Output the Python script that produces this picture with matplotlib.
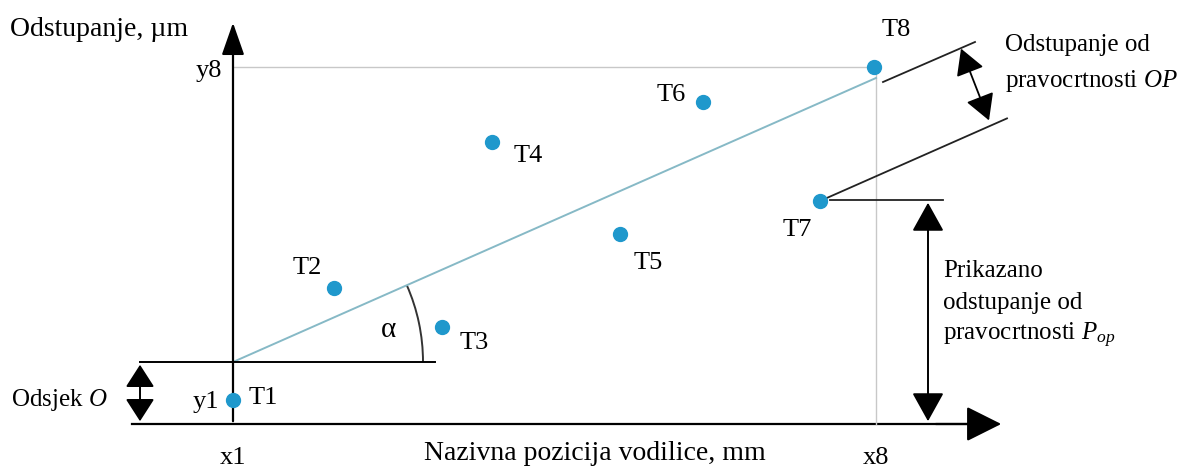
import numpy as np
import matplotlib.pyplot as plt
from matplotlib.patches import Arc, FancyArrowPatch

plt.rcParams['font.family'] = ['Liberation Serif', 'DejaVu Serif']
plt.rcParams['mathtext.fontset'] = 'custom'
plt.rcParams['mathtext.rm'] = 'Liberation Serif'
plt.rcParams['mathtext.it'] = 'Liberation Serif:italic'

# measured points (nominal position, deviation)
labels = ['T1', 'T2', 'T3', 'T4', 'T5', 'T6', 'T7', 'T8']
x_pos = [0, 101, 209, 259, 387, 470, 587, 641]
deviation = [24, 136, 97, 282, 190, 322, 223, 357]

x8 = 643
y8 = 357
offset_O = 62          # intercept of the reference line
slope = 0.4417         # slope of the reference line

lbl_off = [(30, 2), (-27, 20), (32, -16), (36, -14), (28, -29), (-32, 7), (-23, -29), (22, 37)]

fig = plt.figure(figsize=(11.9, 4.68), dpi=100)
ax = fig.add_axes([0, 0, 1, 1])
ax.set_xlim(-233, 957)
ax.set_ylim(-44, 424)
ax.axis('off')

fs = 19
blk = 'black'

# axes with arrows
ax.plot([-101, 750], [0, 0], color=blk, lw=1.6)
ax.annotate('', xy=(771, 0), xytext=(700, 0),
            arrowprops=dict(arrowstyle='-|>,head_length=1.1,head_width=0.55', color=blk, lw=1.6, mutation_scale=20))
ax.annotate('', xy=(0, 404), xytext=(0, 0),
            arrowprops=dict(arrowstyle='-|>,head_length=1.0,head_width=0.35', color=blk, lw=1.6, mutation_scale=20))

# grey guide lines at x8 / y8
ax.plot([0, x8], [y8, y8], color='#c8c8c8', lw=1)
ax.plot([x8, x8], [0, y8], color='#c8c8c8', lw=1)

# reference line
ax.plot([0, x8], [offset_O, offset_O + slope * x8], color='#86b9c6', lw=1.4)

# horizontal at O and angle arc
ax.plot([-93, 202], [offset_O, offset_O], color=blk, lw=1.4)
ang = np.degrees(np.arctan(slope))
ax.add_patch(Arc((0, offset_O), 380, 380, theta1=0, theta2=ang, color='#333333', lw=1.4))
ax.text(155, 94, 'α', fontsize=fs + 2, ha='center', va='center')

# Odsjek O arrow
ax.add_patch(FancyArrowPatch((-93, offset_O), (-93, 0),
             arrowstyle='<|-|>,head_length=0.7,head_width=0.45', mutation_scale=20, color=blk, lw=1.4))
ax.text(-222, 24, 'Odsjek $\\mathit{O}$', fontsize=fs - 1, va='center', ha='left')

# envelope lines and OP arrow
ax.plot([650, 742], [342, 382], color='#222222', lw=1.3)
ax.plot([587, 774], [223, 223 + slope * 187], color='#222222', lw=1.3)
ax.add_patch(FancyArrowPatch((727, 378), (757, 301),
             arrowstyle='<|-|>,head_length=0.8,head_width=0.45', mutation_scale=20, color=blk, lw=1.3))
ax.text(772, 379, 'Odstupanje od', fontsize=fs - 1, va='center', ha='left')
ax.text(772, 343, 'pravocrtnosti $\\mathit{OP}$', fontsize=fs - 1, va='center', ha='left')

# Pop arrow
ax.plot([597, 710], [224, 224], color='#222222', lw=1.3)
ax.add_patch(FancyArrowPatch((695, 224), (695, 0),
             arrowstyle='<|-|>,head_length=0.9,head_width=0.5', mutation_scale=20, color=blk, lw=1.4))
ax.text(710, 153, 'Prikazano', fontsize=fs - 1, va='center', ha='left')
ax.text(710, 121, 'odstupanje od', fontsize=fs - 1, va='center', ha='left')
ax.text(710, 89, 'pravocrtnosti $\\mathit{P_{op}}$', fontsize=fs - 1, va='center', ha='left')

# points
ax.plot(x_pos, deviation, 'o', color='#1f98cc', markersize=10, zorder=5)
for lab, x, y, (dx, dy) in zip(labels, x_pos, deviation, lbl_off):
    ax.text(x + dx, y + dy, lab, fontsize=fs, ha='center', va='center')

# tick labels
ax.text(0, -34, 'x1', fontsize=fs, ha='center', va='center')
ax.text(x8, -34, 'x8', fontsize=fs, ha='center', va='center')
ax.text(-14, 22, 'y1', fontsize=fs, ha='right', va='center')
ax.text(-11, y8 - 4, 'y8', fontsize=fs, ha='right', va='center')

ax.text(362, -29, 'Nazivna pozicija vodilice, mm', fontsize=fs + 1, ha='center', va='center')
ax.text(-223, 394, 'Odstupanje, µm', fontsize=fs + 1, ha='left', va='center')

fig.savefig('out.png', dpi=100)
